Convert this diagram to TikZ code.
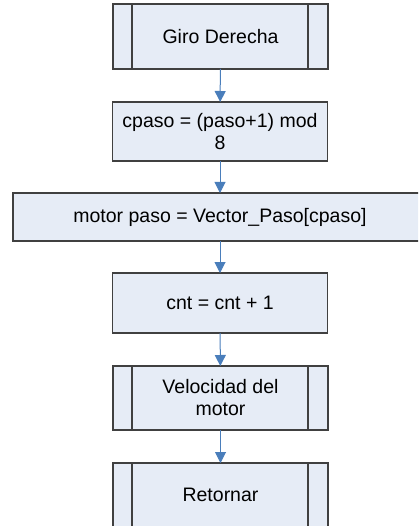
\documentclass[tikz,border=0pt]{standalone}
\usepackage{fontspec}
\setmainfont{Liberation Sans}
\usetikzlibrary{arrows.meta}
\definecolor{boxfill}{HTML}{E6ECF6}
\definecolor{boxline}{HTML}{404040}
\definecolor{arrblue}{HTML}{4A7EBB}
\begin{document}
\begin{tikzpicture}[x=1pt,y=1pt,
  box/.style={draw=boxline,fill=boxfill,line width=1.3pt,inner sep=0pt,outer sep=0pt,
    minimum width=215pt,align=center,font=\fontsize{19.5}{22}\selectfont},
  arr/.style={draw=arrblue,line width=1pt,-{Triangle[length=11pt,width=11pt]}},
  sub/.style={draw=boxline,line width=1.1pt}]
\useasboundingbox (0,0) rectangle (418,-526);
\clip (0,0) rectangle (418,-526);
\node[box,minimum height=65pt] (b1) at (220.5,-36.5) {Giro Derecha};
\node[box,minimum height=59pt] (b2) at (220,-131.5) {cpaso = (paso+1) mod\\8};
\node[box,minimum height=48pt,minimum width=414pt] (b3) at (220,-217) {motor paso = Vector\_Paso[cpaso]};
\node[box,minimum height=60pt] (b4) at (220,-303) {cnt = cnt + 1};
\node[box,minimum height=64pt] (b5) at (220.5,-398) {Velocidad del\\motor};
\node[box,minimum height=64pt] (b6) at (220.5,-495) {Retornar};
\foreach \n in {b1,b5,b6}{
  \draw[sub] ([xshift=19pt]\n.north west) -- ([xshift=19pt]\n.south west);
  \draw[sub] ([xshift=-20pt]\n.north east) -- ([xshift=-20pt]\n.south east);
}
\draw[arr] (b1) -- (b2);
\draw[arr] (b2) -- (b3);
\draw[arr] (b3) -- (b4);
\draw[arr] (b4) -- (b5);
\draw[arr] (b5) -- (b6);
\end{tikzpicture}
\end{document}
